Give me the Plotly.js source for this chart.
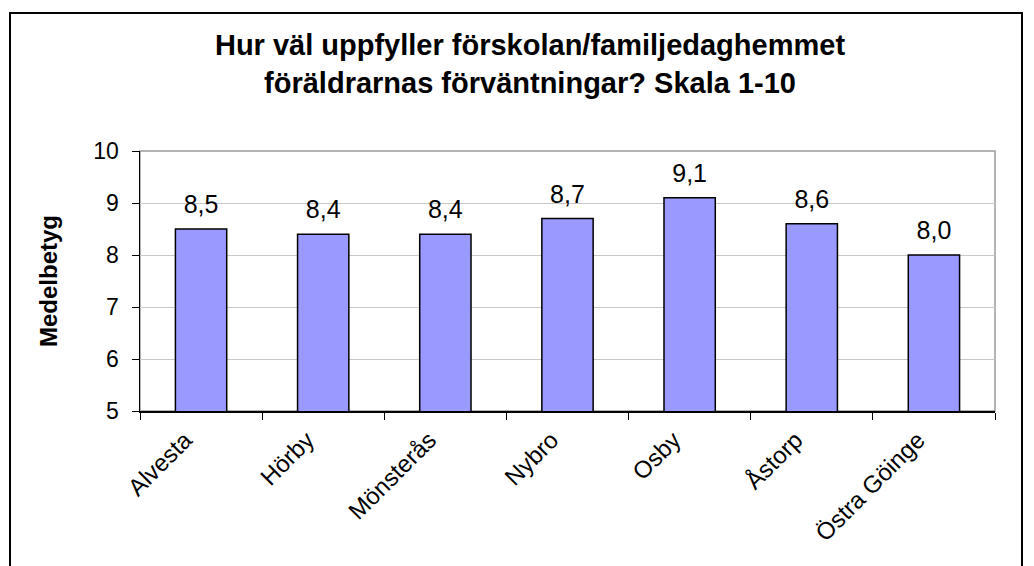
<!DOCTYPE html>
<html><head><meta charset="utf-8">
<script src="https://cdn.plot.ly/plotly-3.0.1.min.js"></script>
<style>html,body{margin:0;padding:0;background:#fff;}</style>
</head><body>
<div id="chart" style="width:1034px;height:566px;"></div>
<script>
const categories = ["Alvesta", "Hörby", "Mönsterås", "Nybro", "Osby", "Åstorp", "Östra Göinge"];
const values = [8.5, 8.4, 8.4, 8.7, 9.1, 8.6, 8.0];
const yTicks = [5, 6, 7, 8, 9, 10];

const L = 140, R = 39, T = 151, B = 155, W = 1034, H = 566;
const pw = W - L - R, ph = H - T - B;
const px = v => (v - L) / pw;
const py = v => (H - B - v) / ph;
const FONT = 'Liberation Sans, Arial, sans-serif';

const bars = {
  type: 'bar', x: categories, y: values,
  marker: {color: '#9999FF', line: {color: '#000000', width: 1.5}},
  width: 0.42, hoverinfo: 'none'
};
const labels = {
  type: 'scatter', mode: 'markers+text', x: categories, y: values,
  texttemplate: '%{y:.1f}', textposition: 'top center',
  marker: {size: 14, opacity: 0}, cliponaxis: false,
  textfont: {family: FONT, size: 25, color: '#000'}, hoverinfo: 'none'
};
const layout = {
  width: W, height: H,
  margin: {l: L, r: R, t: T, b: B},
  separators: ',.',
  paper_bgcolor: '#fff', plot_bgcolor: '#fff',
  showlegend: false,
  font: {family: FONT, color: '#000'},
  title: {
    text: '<b>Hur väl uppfyller förskolan/familjedaghemmet<br>föräldrarnas förväntningar? Skala 1-10</b>',
    font: {size: 29, color: '#000'},
    x: 530 / W, xref: 'container', xanchor: 'center',
    y: 1 - 55 / H, yref: 'container', yanchor: 'top'
  },
  xaxis: {
    type: 'category', tickangle: -45,
    tickfont: {size: 24, color: '#000'},
    showline: true, linecolor: '#000', linewidth: 1.5,
    ticks: 'outside', tickson: 'boundaries', ticklen: 7, tickcolor: '#000', tickwidth: 1,
    ticklabelshift: -16, ticklabelstandoff: 4,
    showgrid: false, automargin: false
  },
  yaxis: {
    range: [5, 10], tickvals: yTicks, ticktext: yTicks.map(String),
    tickfont: {size: 23, color: '#000'},
    showline: true, linecolor: '#000', linewidth: 1.5,
    ticks: 'outside', ticklen: 7, tickcolor: '#000', tickwidth: 1,
    ticklabelstandoff: 8,
    showgrid: true, gridcolor: '#c8c8c8', gridwidth: 1,
    zeroline: false, automargin: false,
    title: {text: '<b>Medelbetyg</b>', font: {size: 24, color: '#000'}, standoff: 29}
  },
  shapes: [
    {type: 'rect', xref: 'paper', yref: 'paper', x0: 0, x1: 1, y0: 0, y1: 1,
     line: {color: '#9a9a9a', width: 1.5}, fillcolor: 'rgba(0,0,0,0)', layer: 'below'},
    {type: 'rect', xref: 'paper', yref: 'paper', x0: px(10), x1: px(1022), y0: py(580), y1: py(13),
     line: {color: '#000', width: 2}, fillcolor: 'rgba(0,0,0,0)'}
  ]
};
Plotly.newPlot('chart', [bars, labels], layout, {displayModeBar: false, staticPlot: true});
</script>
</body></html>
